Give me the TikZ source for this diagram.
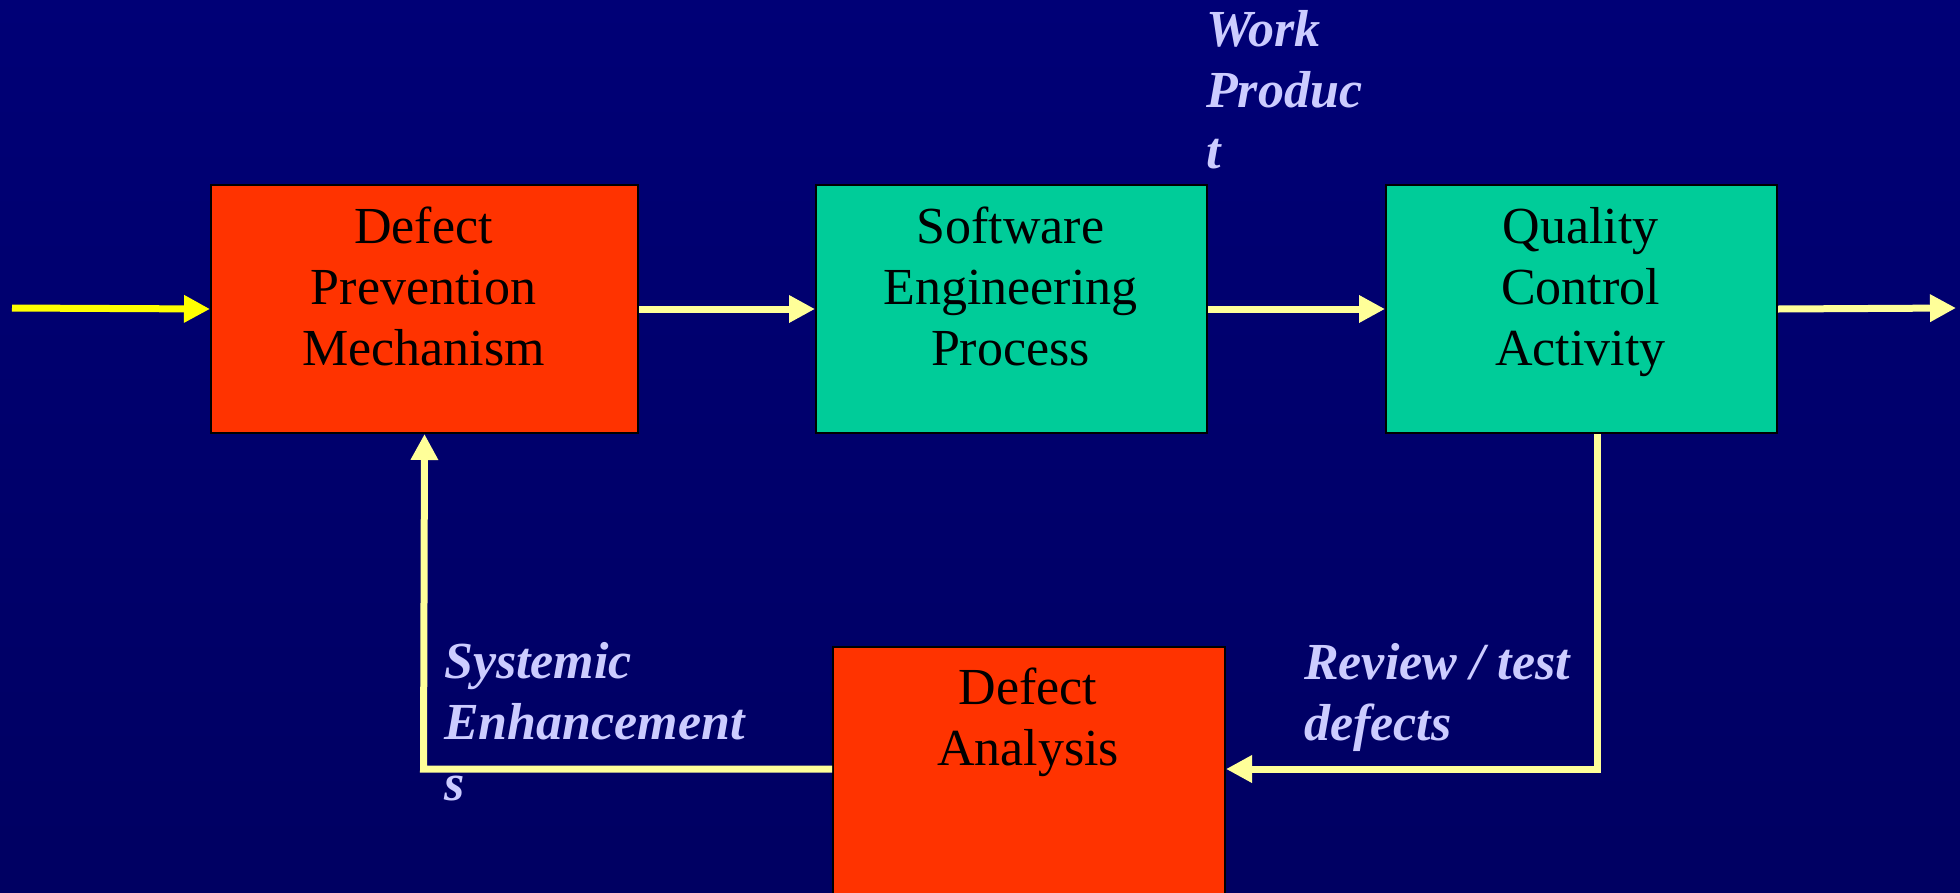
\documentclass[tikz,border=0pt]{standalone}
\usepackage{fontspec}
\setmainfont{Liberation Serif}
\usetikzlibrary{arrows.meta}
\definecolor{bgtop}{RGB}{0,0,118}
\definecolor{bgmid}{RGB}{0,0,152}
\definecolor{bgbot}{RGB}{0,0,98}
\definecolor{redfill}{RGB}{255,51,0}
\definecolor{greenfill}{RGB}{0,204,153}
\definecolor{lineyellow}{RGB}{255,255,153}
\definecolor{brightyellow}{RGB}{255,255,0}
\definecolor{labelcol}{RGB}{204,204,255}
\begin{document}
\begin{tikzpicture}[x=1pt,y=-1pt,
  boxbase/.style={draw=black, line width=2pt, minimum height=248pt, inner sep=0pt, anchor=north west},
  redbox/.style={boxbase, fill=redfill},
  greenbox/.style={boxbase, fill=greenfill},
  boxtext/.style={font=\fontsize{52}{61}\selectfont, text=black, align=center, anchor=base, inner sep=0pt},
  lbl/.style={font=\fontsize{52}{61}\selectfont\bfseries\itshape, text=labelcol, align=left, anchor=base west, inner sep=0pt},
  flow/.style={draw=lineyellow, line width=7pt, line join=miter, -{Triangle[length=26pt,width=26pt]}},
  inflow/.style={flow, draw=brightyellow}
]
\useasboundingbox (0,0) rectangle (1960,892);
\clip (0,0) rectangle (1960,892);
\shade[top color=bgtop, middle color=bgmid, bottom color=bgbot] (0,0) rectangle (1960,892);

% boxes
\node[redbox, minimum width=427pt] (dp) at (210,184) {};
\node[greenbox, minimum width=391pt] (se) at (815,184) {};
\node[greenbox, minimum width=391pt] (qc) at (1385,184) {};
\node[redbox, minimum width=392pt, minimum height=330pt] (da) at (832,646) {};

% box texts (anchor base = baseline of the last line)
\node[boxtext] (dpt) at (423.5,365) {Defect\\Prevention\\Mechanism};
\node[boxtext] (set) at (1010.5,365) {Software\\Engineering\\Process};
\node[boxtext] (qct) at (1580.5,365) {Quality\\Control\\Activity};
\node[boxtext] (dat) at (1028,765) {Defect\\Analysis};

% labels
\node[lbl] (wp) at (1206,168) {Work\\Produc\\t};
\node[lbl] (sy) at (444,800) {Systemic\\Enhancement\\s};
\node[lbl] (rv) at (1304,740) {Review / test\\defects};

% coordinates
\coordinate (in) at (12,308);
\coordinate (out) at (1956,308);
\coordinate (fbr) at (1597,769);
\coordinate (fbl) at (423.5,769);

% connectors
\draw[inflow] (in) -- (dp.west);
\draw[flow] (dp.east) -- (se.west);
\draw[flow] (se.east) -- (qc.west);
\draw[flow] (qc.east) -- (out);
\draw[flow] (qc.south -| fbr) -- (fbr) -- (fbr -| da.east);
\draw[flow] (fbl -| da.west) -- (fbl) -- (dp.south);
\end{tikzpicture}
\end{document}
